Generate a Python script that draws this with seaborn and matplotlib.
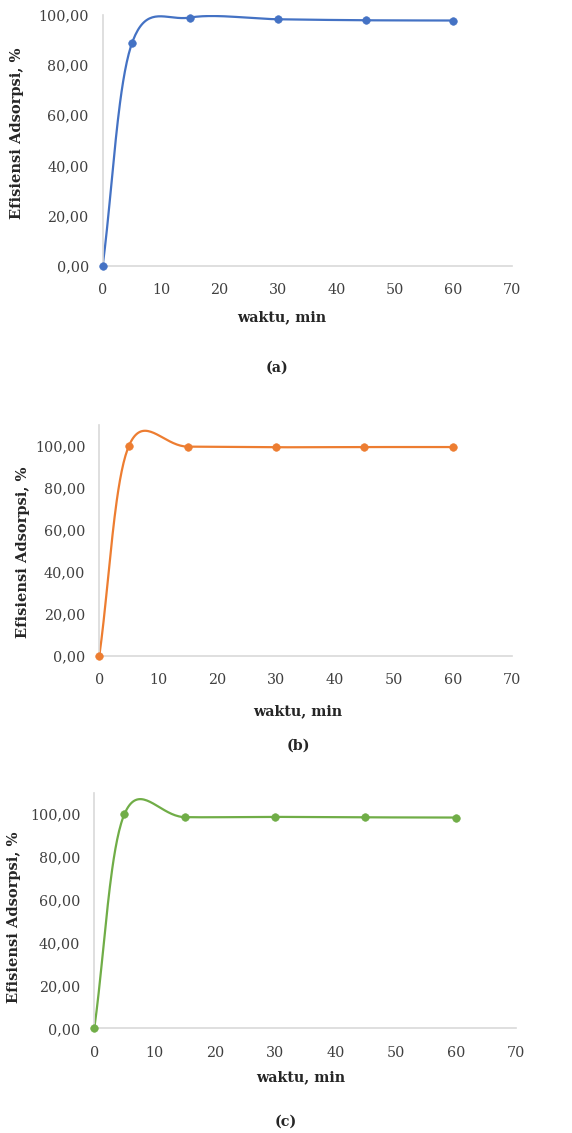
import numpy as np
import pandas as pd
import seaborn as sns
import matplotlib.pyplot as plt
from matplotlib.ticker import FuncFormatter

# Contact time (min) and adsorption efficiency (%) for three samples
waktu = [0, 5, 15, 30, 45, 60]
efisiensi_a = [0.0, 88.7, 99.0, 98.3, 97.9, 97.8]
efisiensi_b = [0.0, 99.9, 99.7, 99.4, 99.5, 99.5]
efisiensi_c = [0.0, 100.0, 98.6, 98.7, 98.5, 98.4]
panel_labels = ['(a)', '(b)', '(c)']
colors = ['#4472C4', '#ED7D31', '#70AD47']
y_tops = [100, 110, 110]

sns.set_style('white')
plt.rcParams['font.family'] = ['DejaVu Serif']

W, H = 572, 1133


def smooth_curve(x, y, n=40):
    # Excel-like smoothed line: Bezier segments through the points,
    # control points at 1/6 of neighbour difference, reflected at the ends
    pts = np.column_stack([x, y]).astype(float)
    out = []
    for i in range(len(pts) - 1):
        p1, p2 = pts[i], pts[i + 1]
        p0 = pts[i - 1] if i > 0 else 2 * p1 - p2
        p3 = pts[i + 2] if i + 2 < len(pts) else 2 * p2 - p1
        c1 = p1 + (p2 - p0) / 6
        c2 = p2 - (p3 - p1) / 6
        t = np.linspace(0, 1, n)[:, None]
        seg = ((1 - t) ** 3) * p1 + 3 * ((1 - t) ** 2) * t * c1 + 3 * (1 - t) * t ** 2 * c2 + t ** 3 * p2
        out.append(seg if i == 0 else seg[1:])
    seg = np.vstack(out)
    return pd.DataFrame({'waktu': seg[:, 0], 'efisiensi': seg[:, 1]})


fig = plt.figure(figsize=(W / 100, H / 100), dpi=100)
# plot areas in pixels: left, right, top, bottom
areas = [(102.7, 511.7, 15.0, 265.7),
         (99.3, 511.7, 425.0, 656.0),
         (94.3, 516.0, 792.7, 1028.3)]
ylab_px = [(17, 133), (23, 552), (14, 917)]
xlab_px = [(282, 317), (298, 711), (301, 1077)]
cap_px = [(277, 368), (298, 746), (286, 1122)]

series = [efisiensi_a, efisiensi_b, efisiensi_c]
fmt = FuncFormatter(lambda v, p: f'{v:.2f}'.replace('.', ','))

for i, vals in enumerate(series):
    l, r, t, b = areas[i]
    ax = fig.add_axes([l / W, 1 - b / H, (r - l) / W, (b - t) / H])
    df = pd.DataFrame({'waktu': waktu, 'efisiensi': vals})
    sns.lineplot(data=smooth_curve(waktu, vals), x='waktu', y='efisiensi',
                 color=colors[i], linewidth=1.6, sort=False, ax=ax)
    sns.scatterplot(data=df, x='waktu', y='efisiensi', color=colors[i],
                    s=30, edgecolor=colors[i], zorder=3, ax=ax, clip_on=False)
    ax.set_xlim(0, 70)
    ax.set_ylim(0, y_tops[i])
    ax.set_xticks(range(0, 71, 10))
    ax.set_yticks(range(0, 101, 20))
    ax.yaxis.set_major_formatter(fmt)
    ax.tick_params(length=0, labelsize=10.3, labelcolor='#404040')
    ax.tick_params(axis='x', pad=12.5)
    ax.tick_params(axis='y', pad=10)
    for s in ['top', 'right']:
        ax.spines[s].set_visible(False)
    for s in ['left', 'bottom']:
        ax.spines[s].set_color('#d9d9d9')
        ax.spines[s].set_linewidth(1.2)
    ax.set_xlabel('')
    ax.set_ylabel('')

    fig.text(ylab_px[i][0] / W, 1 - ylab_px[i][1] / H, 'Efisiensi Adsorpsi, %',
             rotation=90, ha='center', va='center', fontsize=10.5,
             fontweight='bold', color='#262626')
    fig.text(xlab_px[i][0] / W, 1 - xlab_px[i][1] / H, 'waktu, min',
             ha='center', va='center', fontsize=10.3, fontweight='bold',
             color='#262626')
    fig.text(cap_px[i][0] / W, 1 - cap_px[i][1] / H, panel_labels[i],
             ha='center', va='center', fontsize=10.3, fontweight='bold',
             color='#262626')

fig.savefig('out.png', dpi=100)
